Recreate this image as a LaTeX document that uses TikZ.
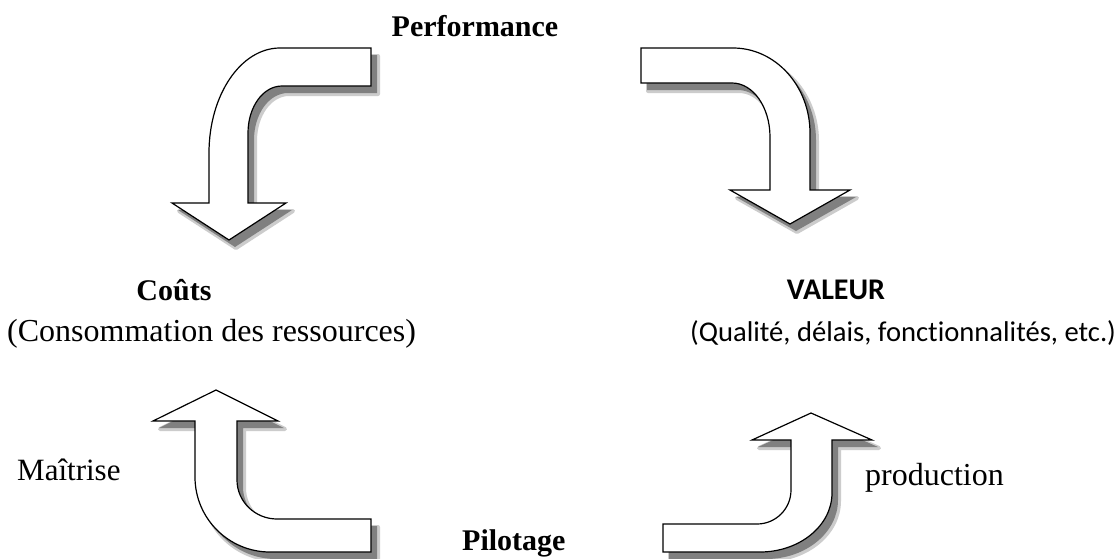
\documentclass[tikz,border=0pt]{standalone}
\usepackage{fontspec}
\setmainfont{Liberation Serif}
\newfontfamily\calibrifont[Ligatures=NoCommon]{Carlito}
\tikzset{
  bigarrow/.style={draw=black, line width=1.2pt, fill=white, line join=miter},
  shadowsoft/.style={fill=black!20, draw=black!20, line width=4pt, line join=round},
  shadowhard/.style={fill=black!50},
  lbl/.style={inner sep=0pt, font=\fontsize{32}{38}\selectfont},
  lblb/.style={inner sep=0pt, font=\fontsize{30}{36}\selectfont\bfseries},
}
\newcommand\pathTL{(371,48) -- (280,48) .. controls (240.8,48) and (209,95) .. (209,153) -- (209,203) -- (172,203) -- (229,240) -- (286,203) -- (248,203) -- (248,133) .. controls (248,107) and (263,86) .. (282,86) -- (371,86) -- cycle}
\newcommand\pathTR{(641,48) -- (733,48) .. controls (775.5,48) and (810,86) .. (810,133) -- (810,190) -- (850,190) -- (790,224) -- (730,190) -- (770,190) -- (770,137) .. controls (770,107) and (753,83) .. (732,83) -- (641,83) -- cycle}
\newcommand\pathBL{(216,390) -- (278,421) -- (237,421) -- (237,480) .. controls (237,501.5) and (255,519) .. (277,519) -- (371,519) -- (371,552) -- (270,552) .. controls (228.6,552) and (195,518.4) .. (195,477) -- (195,421) -- (153,421) -- cycle}
\newcommand\pathBR{(811,413) -- (872,440) -- (832,440) -- (832,493) .. controls (832,525.6) and (799.7,552) .. (760,552) -- (663,552) -- (663,524) -- (757,524) .. controls (775.8,524) and (791,508.8) .. (791,490) -- (791,440) -- (752,440) -- cycle}
\begin{document}
\begin{tikzpicture}[x=1pt,y=-1pt]
\useasboundingbox[fill=white] (0,0) rectangle (1119,558);
% shadows
\foreach \p in {\pathTL,\pathTR,\pathBL,\pathBR}{
  \path[shadowsoft, shift={(7,8)}] \p;
  \path[shadowhard, shift={(6,7)}] \p;
}
% arrows
\path[bigarrow] \pathTL;
\path[bigarrow] \pathTR;
\path[bigarrow] \pathBL;
\path[bigarrow] \pathBR;
% labels
\node[lblb, anchor=base] (perf) at (475,36) {Performance};
\node[lblb, anchor=base] (couts) at (174,300) {Coûts};
\node[lbl, anchor=base west] (conso) at (7,341) {(Consommation des ressources)};
\node[inner sep=0pt, anchor=base, font=\calibrifont\fontsize{30}{36}\selectfont\bfseries] (valeur) at (836,299) {VALEUR};
\node[inner sep=0pt, anchor=base west, font=\calibrifont\fontsize{28.6}{34}\selectfont] (qual) at (690,341) {(Qualité, délais, fonctionnalités, etc.)};
\node[lbl, font=\fontsize{31}{37}\selectfont, anchor=base west] (maitrise) at (17,480) {Maîtrise};
\node[lbl, anchor=base west] (prod) at (865,485) {production};
\node[lblb, anchor=base west] (pilot) at (462,550) {Pilotage};
\end{tikzpicture}
\end{document}
